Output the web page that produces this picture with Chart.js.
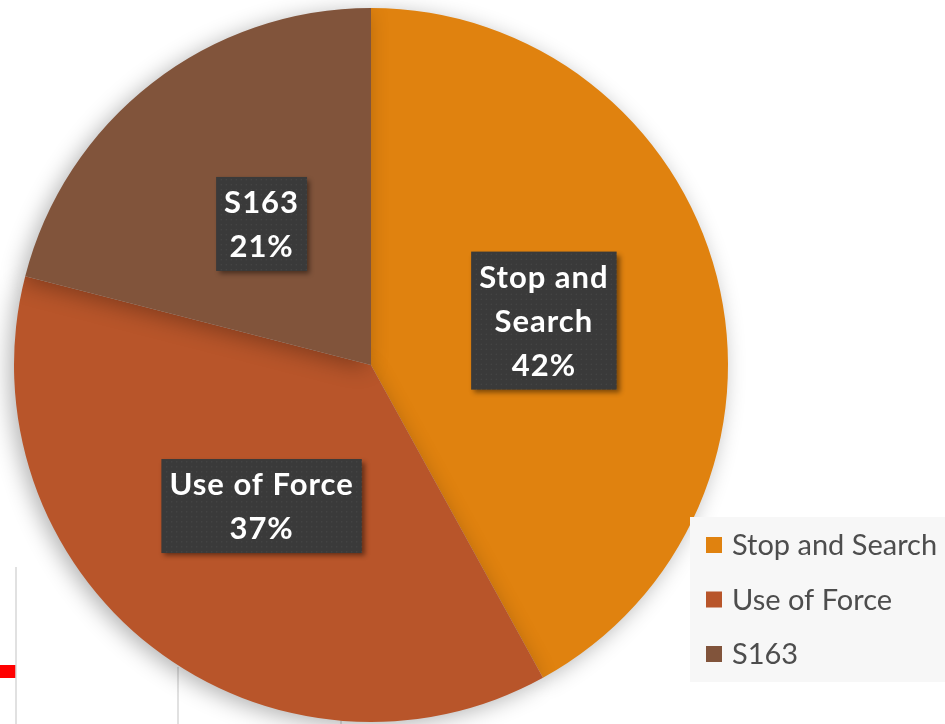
<!DOCTYPE html>
<html>
<head>
<meta charset="utf-8">
<script src="https://cdn.jsdelivr.net/npm/chart.js@4/dist/chart.umd.min.js"></script>
<style>
  html, body { margin: 0; padding: 0; background: #ffffff; }
  #wrap { position: relative; width: 945px; height: 724px; }
  canvas { display: block; }
</style>
</head>
<body>
<div id="wrap"><canvas id="c" width="945" height="724"></canvas></div>
<script>
const categories = ['Stop and Search', 'Use of Force', 'S163'];
const labelLines = [['Stop and', 'Search'], ['Use of Force'], ['S163']];
const shares = [42, 37, 21];
const colors = ['#E0820F', '#B8552A', '#81543B'];

const decorPlugin = {
  id: 'decor',
  beforeDraw(chart) {
    const ctx = chart.ctx;
    ctx.save();
    ctx.fillStyle = '#ff0000';
    ctx.fillRect(0, 665, 16, 13);
    ctx.strokeStyle = '#d8d8d8';
    ctx.lineWidth = 1.5;
    ctx.beginPath();
    ctx.moveTo(16, 567); ctx.lineTo(16, 724);
    ctx.moveTo(178, 667); ctx.lineTo(178, 724);
    ctx.moveTo(341, 718); ctx.lineTo(341, 724);
    ctx.stroke();
    ctx.restore();
  },
  beforeDatasetsDraw(chart) {
    const ctx = chart.ctx;
    ctx.save();
    ctx.shadowColor = 'rgba(0,0,0,0.3)';
    ctx.shadowBlur = 22;
    ctx.shadowOffsetX = -5;
    ctx.shadowOffsetY = 4;
  },
  afterDatasetsDraw(chart) {
    const ctx = chart.ctx;
    ctx.restore();
    const meta = chart.getDatasetMeta(0);
    const total = shares.reduce((a, b) => a + b, 0);
    meta.data.forEach((arc, i) => {
      const pos = arc.tooltipPosition();
      const lines = labelLines[i].concat([Math.round(shares[i] / total * 100) + '%']);
      ctx.save();
      ctx.font = 'bold 31px Lato, "Open Sans", sans-serif';
      ctx.letterSpacing = '1px';
      const lh = 44;
      let w = 0;
      lines.forEach(l => { w = Math.max(w, ctx.measureText(l).width); });
      const bw = w + 16, bh = lines.length * lh + 6;
      const bx = pos.x - bw / 2, by = pos.y - bh / 2;
      ctx.shadowColor = 'rgba(0,0,0,0.45)';
      ctx.shadowBlur = 5;
      ctx.shadowOffsetX = 3;
      ctx.shadowOffsetY = 3;
      ctx.fillStyle = '#3a3a3a';
      ctx.fillRect(bx, by, bw, bh);
      ctx.shadowColor = 'transparent';
      ctx.fillStyle = 'rgba(255,255,255,0.05)';
      for (let yy = by + 2; yy < by + bh; yy += 5) {
        for (let xx = bx + 2 + ((yy - by) % 10 ? 2.5 : 0); xx < bx + bw; xx += 5) {
          ctx.fillRect(xx, yy, 1.5, 1.5);
        }
      }
      ctx.fillStyle = '#ffffff';
      ctx.textAlign = 'center';
      ctx.textBaseline = 'middle';
      lines.forEach((l, k) => {
        ctx.fillText(l, pos.x, by + 3 + lh * (k + 0.5) + 1);
      });
      ctx.restore();
    });
  }
};

const legendPlugin = {
  id: 'customLegend',
  afterDraw(chart) {
    const ctx = chart.ctx;
    ctx.save();
    ctx.fillStyle = '#f7f7f7';
    ctx.fillRect(690, 517, 255, 165);
    ctx.font = '29px Lato, "Open Sans", sans-serif';
    ctx.textBaseline = 'middle';
    ctx.textAlign = 'left';
    categories.forEach((c, i) => {
      const cy = 545 + i * 54.5;
      ctx.fillStyle = colors[i];
      ctx.fillRect(706, cy - 8, 16, 16);
      ctx.fillStyle = '#4d4d4d';
      ctx.fillText(c, 732, cy + 1);
    });
    ctx.restore();
  }
};

new Chart(document.getElementById('c'), {
  type: 'pie',
  data: {
    labels: categories,
    datasets: [{
      data: shares,
      backgroundColor: colors,
      borderWidth: 0
    }]
  },
  options: {
    responsive: false,
    animation: false,
    layout: { padding: { left: 14, right: 217, top: 8, bottom: 2 } },
    plugins: {
      legend: { display: false },
      tooltip: { enabled: false }
    }
  },
  plugins: [decorPlugin, legendPlugin]
});
</script>
</body>
</html>
